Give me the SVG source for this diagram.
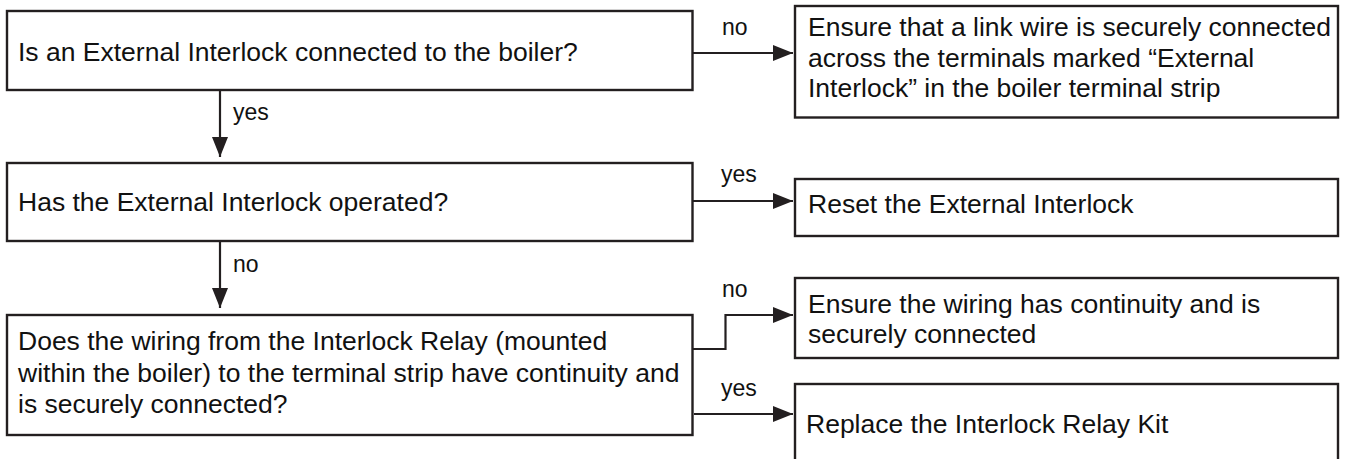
<svg xmlns="http://www.w3.org/2000/svg" width="1349" height="459" viewBox="0 0 1349 459">
  <style>
    .box { fill: #ffffff; stroke: #231f20; stroke-width: 2.4; }
    .txt { font-family: "Liberation Sans", Arial, sans-serif; font-size: 26.5px; fill: #111111; }
    .lbl { font-family: "Liberation Sans", Arial, sans-serif; font-size: 23px; fill: #111111; }
    .conn { fill: none; stroke: #231f20; stroke-width: 2.2; }
  </style>
  <defs>
    <marker id="arrow" markerUnits="userSpaceOnUse" markerWidth="20" markerHeight="16" refX="20" refY="8" orient="auto">
      <path d="M0,0 L20,8 L0,16 z" fill="#231f20"/>
    </marker>
  </defs>
  <rect width="1349" height="459" fill="#ffffff"/>

  <g id="connectors">
    <line class="conn" x1="220" y1="90" x2="220" y2="157" marker-end="url(#arrow)"/>
    <line class="conn" x1="220" y1="241" x2="220" y2="308" marker-end="url(#arrow)"/>
    <line class="conn" x1="693" y1="53" x2="793" y2="53" marker-end="url(#arrow)"/>
    <line class="conn" x1="693" y1="201" x2="793" y2="201" marker-end="url(#arrow)"/>
    <polyline class="conn" points="693,349 725.5,349 725.5,315 793,315" marker-end="url(#arrow)"/>
    <line class="conn" x1="694" y1="414" x2="793" y2="414" marker-end="url(#arrow)"/>
    <text class="lbl" x="233" y="120">yes</text>
    <text class="lbl" x="233" y="272">no</text>
    <text class="lbl" x="722" y="35">no</text>
    <text class="lbl" x="721" y="182">yes</text>
    <text class="lbl" x="722" y="297">no</text>
    <text class="lbl" x="721" y="396">yes</text>
  </g>

  <g id="q1">
    <rect class="box" x="7" y="11" width="685.5" height="79"/>
    <text class="txt" x="18" y="61">Is an External Interlock connected to the boiler?</text>
  </g>
  <g id="q2">
    <rect class="box" x="7" y="163" width="685.5" height="78"/>
    <text class="txt" x="18" y="211">Has the External Interlock operated?</text>
  </g>
  <g id="q3">
    <rect class="box" x="7" y="315" width="685.5" height="120"/>
    <text class="txt" x="18" y="350">Does the wiring from the Interlock Relay (mounted</text>
    <text class="txt" x="18" y="381.5">within the boiler) to the terminal strip have continuity and</text>
    <text class="txt" x="18" y="413">is securely connected?</text>
  </g>
  <g id="a1">
    <rect class="box" x="795" y="6" width="543" height="111.5"/>
    <text class="txt" x="808" y="36">Ensure that a link wire is securely connected</text>
    <text class="txt" x="808" y="66.5">across the terminals marked “External</text>
    <text class="txt" x="808" y="97">Interlock” in the boiler terminal strip</text>
  </g>
  <g id="a2">
    <rect class="box" x="795" y="179" width="543" height="57"/>
    <text class="txt" x="808" y="212.5">Reset the External Interlock</text>
  </g>
  <g id="a3">
    <rect class="box" x="795" y="278" width="543" height="80"/>
    <text class="txt" x="808" y="313">Ensure the wiring has continuity and is</text>
    <text class="txt" x="808" y="342.5">securely connected</text>
  </g>
  <g id="a4">
    <rect class="box" x="795" y="384" width="543" height="90"/>
    <text class="txt" x="806" y="433">Replace the Interlock Relay Kit</text>
  </g>
</svg>
